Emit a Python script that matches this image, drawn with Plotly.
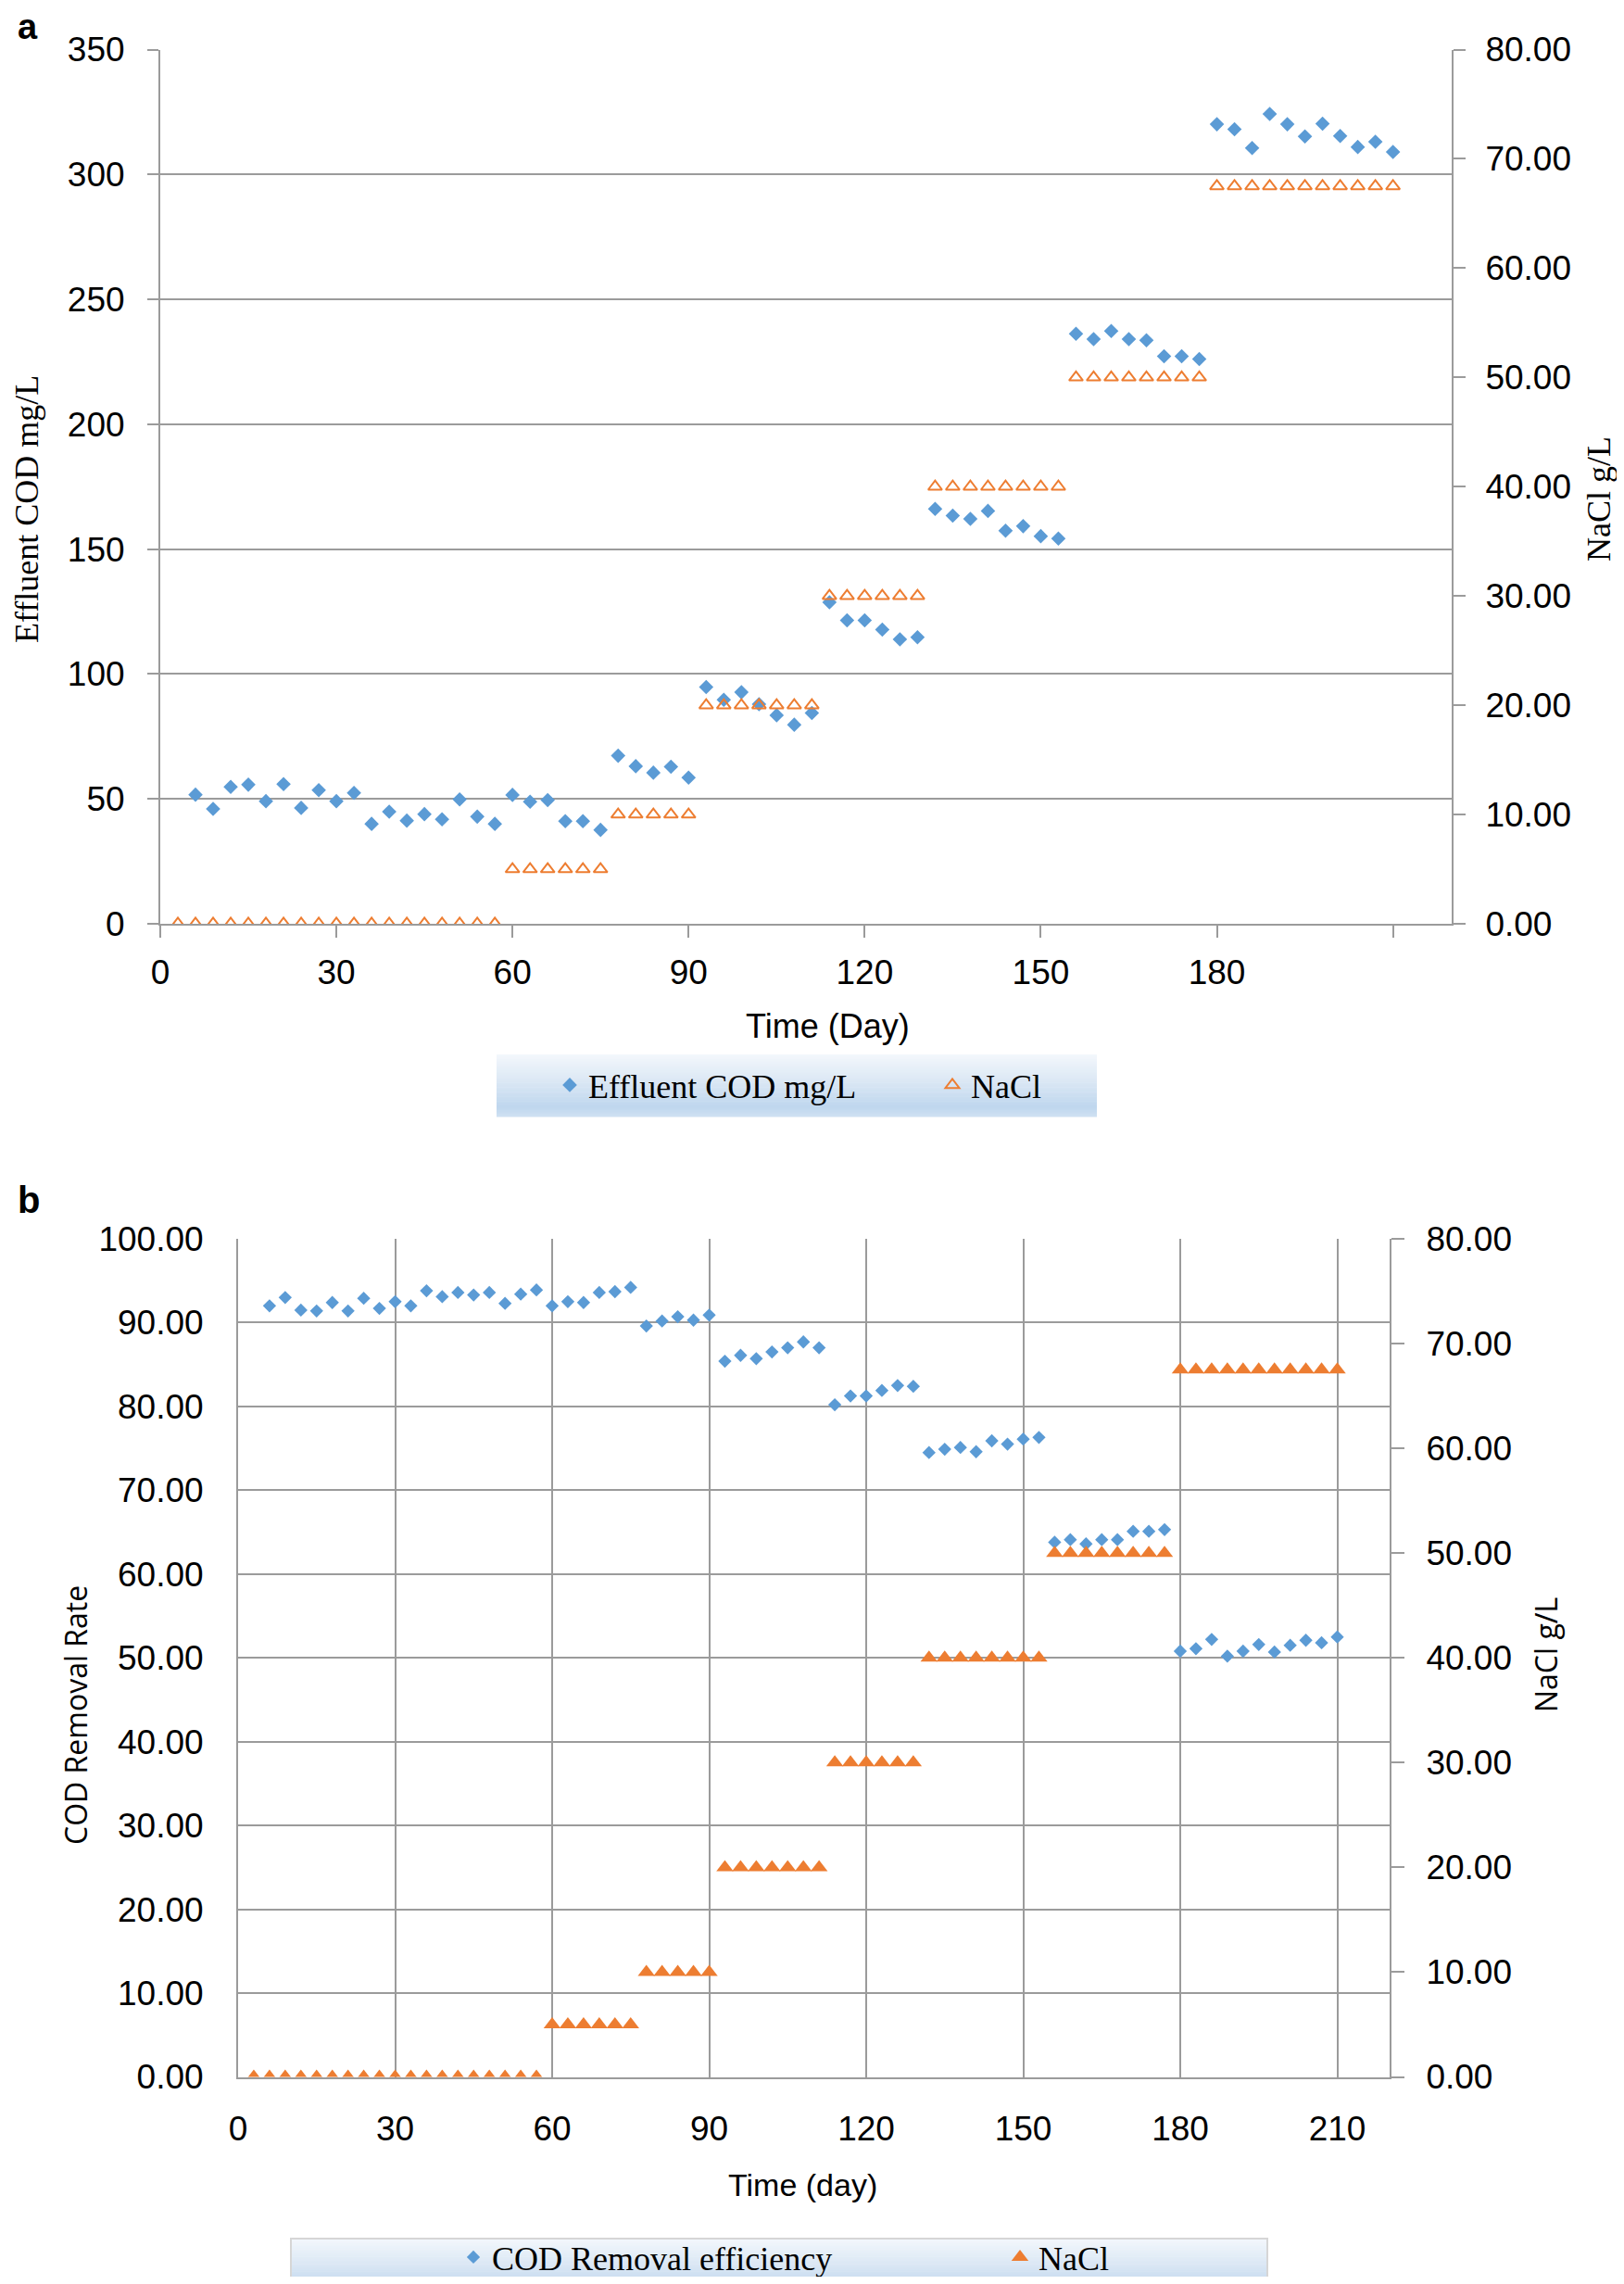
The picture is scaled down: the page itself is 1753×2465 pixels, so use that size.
import plotly.graph_objects as go

# ---------------- data ----------------
days_cod = [6, 9, 12, 15, 18, 21, 24, 27, 30, 33, 36, 39, 42, 45, 48, 51, 54, 57,
            60, 63, 66, 69, 72, 75,
            78, 81, 84, 87, 90,
            93, 96, 99, 102, 105, 108, 111,
            114, 117, 120, 123, 126, 129,
            132, 135, 138, 141, 144, 147, 150, 153,
            156, 159, 162, 165, 168, 171, 174, 177,
            180, 183, 186, 189, 192, 195, 198, 201, 204, 207, 210]

days_nacl = [3, 6, 9, 12, 15, 18, 21, 24, 27, 30, 33, 36, 39, 42, 45, 48, 51, 54, 57,
             60, 63, 66, 69, 72, 75,
             78, 81, 84, 87, 90,
             93, 96, 99, 102, 105, 108, 111,
             114, 117, 120, 123, 126, 129,
             132, 135, 138, 141, 144, 147, 150, 153,
             156, 159, 162, 165, 168, 171, 174, 177,
             180, 183, 186, 189, 192, 195, 198, 201, 204, 207, 210]

nacl = [0, 0, 0, 0, 0, 0, 0, 0, 0, 0, 0, 0, 0, 0, 0, 0, 0, 0, 0,
        5, 5, 5, 5, 5, 5,
        10, 10, 10, 10, 10,
        20, 20, 20, 20, 20, 20, 20,
        30, 30, 30, 30, 30, 30,
        40, 40, 40, 40, 40, 40, 40, 40,
        50, 50, 50, 50, 50, 50, 50, 50,
        67.5, 67.5, 67.5, 67.5, 67.5, 67.5, 67.5, 67.5, 67.5, 67.5, 67.5]

effluent_cod = [51.7, 46.0, 54.8, 55.7, 49.1, 55.9, 46.4, 53.5, 49.1, 52.4, 40.0, 44.9,
                41.3, 43.9, 41.8, 49.8, 42.9, 40.0,
                51.6, 48.9, 49.5, 41.1, 41.1, 37.6,
                67.3, 63.1, 60.5, 62.9, 58.5,
                94.8, 89.7, 92.7, 87.9, 83.5, 79.7, 84.4,
                128.7, 121.5, 121.5, 117.8, 113.9, 114.7,
                166.1, 163.4, 162.1, 165.3, 157.4, 159.2, 155.2, 154.2,
                236.2, 234.1, 237.3, 234.1, 233.6, 227.2, 227.2, 226.1,
                320.1, 318.1, 310.6, 324.2, 320.1, 315.2, 320.3, 315.4, 311.0, 313.1, 309.0]

cod_removal = [92.0, 93.0, 91.5, 91.4, 92.4, 91.4, 92.9, 91.7, 92.5, 92.0, 93.8, 93.1,
               93.6, 93.3, 93.6, 92.3, 93.4, 93.9,
               92.0, 92.5, 92.4, 93.6, 93.7, 94.2,
               89.6, 90.2, 90.7, 90.3, 90.9,
               85.4, 86.1, 85.7, 86.5, 87.0, 87.7, 87.0,
               80.2, 81.25, 81.25, 81.9, 82.5, 82.4,
               74.5, 74.9, 75.1, 74.6, 75.9, 75.5, 76.1, 76.3,
               63.8, 64.1, 63.6, 64.1, 64.1, 65.1, 65.1, 65.3,
               50.8, 51.1, 52.2, 50.2, 50.8, 51.6, 50.7, 51.5, 52.1, 51.8, 52.5]

x_ticks = [0, 30, 60, 90, 120, 150, 180, 210]
x_ticktext_a = ["0", "30", "60", "90", "120", "150", "180", ""]
x_ticktext_b = ["0", "30", "60", "90", "120", "150", "180", "210"]

# ---------------- styling ----------------
# page body has an 8px margin: the figure is sized to fit the window exactly
OFF = 8
W, H = 1753 - 2 * OFF, 2465 - 2 * OFF
BLUE = "#5B9BD5"
ORANGE = "#ED7D31"
GRID = "#9B9B9B"
SANS = "Liberation Sans, Arial, sans-serif"
SERIF = "Liberation Serif, Times New Roman, serif"
OPEN = "Open Sans, DejaVu Sans, sans-serif"
TICKFONT = dict(family=SANS, size=37, color="black")


def px(x):
    return (x - OFF) / W


def py(y):
    return 1 - (y - OFF) / H


fig = go.Figure()

# panel a
fig.add_trace(go.Scatter(x=days_cod, y=effluent_cod, mode="markers", name="Effluent COD mg/L",
                         marker=dict(symbol="diamond", size=12, color=BLUE),
                         xaxis="x", yaxis="y", legend="legend"))
fig.add_trace(go.Scatter(x=days_nacl, y=nacl, mode="markers", name="NaCl",
                         marker=dict(symbol="triangle-up-open", size=13, color=ORANGE,
                                     line=dict(width=2, color=ORANGE)),
                         xaxis="x", yaxis="y2", legend="legend"))
# panel b
fig.add_trace(go.Scatter(x=days_cod, y=cod_removal, mode="markers", name="COD Removal efficiency",
                         marker=dict(symbol="diamond", size=11, color=BLUE),
                         xaxis="x2", yaxis="y3", legend="legend2"))
fig.add_trace(go.Scatter(x=days_nacl, y=nacl, mode="markers", name="NaCl",
                         marker=dict(symbol="triangle-up", size=16, color=ORANGE),
                         xaxis="x2", yaxis="y4", legend="legend2"))


# gradient legend backgrounds
def gradient_box(x0, x1, y0, y1, n=40, border=None):
    stops = [(0.0, (243, 247, 252)), (0.45, (218, 231, 244)),
             (0.85, (190, 214, 238)), (1.0, (208, 225, 242))]
    for i in range(n):
        t = (i + 0.5) / n
        for k in range(len(stops) - 1):
            if stops[k][0] <= t <= stops[k + 1][0]:
                a, ca = stops[k]
                b, cb = stops[k + 1]
                f = (t - a) / (b - a)
                c = tuple(int(round(ca[j] + (cb[j] - ca[j]) * f)) for j in range(3))
                break
        ya = y0 + (y1 - y0) * i / n
        yb = y0 + (y1 - y0) * (i + 1) / n + 0.6
        fig.add_shape(type="rect", xref="paper", yref="paper",
                      x0=px(x0), x1=px(x1), y0=py(ya), y1=py(yb),
                      fillcolor="rgb(%d,%d,%d)" % c, line=dict(width=0), layer="above")
    if border:
        fig.add_shape(type="rect", xref="paper", yref="paper",
                      x0=px(x0), x1=px(x1), y0=py(y0), y1=py(y1),
                      fillcolor="rgba(0,0,0,0)", line=dict(width=2, color=border), layer="above")


gradient_box(536, 1184, 1138, 1205)
gradient_box(314, 1368, 2416, 2480, border="#D6D6D6")

axis_common = dict(showline=True, linecolor=GRID, linewidth=2, zeroline=False, automargin=False,
                   tickfont=TICKFONT, tickcolor=GRID, tickwidth=2, gridcolor=GRID, gridwidth=2)

fig.update_layout(
    width=W, height=H, margin=dict(l=0, r=0, t=0, b=0, pad=0, autoexpand=False),
    paper_bgcolor="white", plot_bgcolor="white",
    xaxis=dict(domain=[px(173), px(1567)], anchor="y", range=[0, 220],
               tickmode="array", tickvals=x_ticks, ticktext=x_ticktext_a,
               ticks="outside", ticklen=13, ticklabelstandoff=6, showgrid=False, **axis_common),
    yaxis=dict(domain=[py(997), py(53.5)], anchor="x", range=[0, 350], dtick=50,
               ticks="outside", ticklen=12, ticklabelstandoff=17, showgrid=True, **axis_common),
    yaxis2=dict(overlaying="y", side="right", anchor="x", range=[0, 80], dtick=10,
                tickformat=".2f", ticks="outside", ticklen=13, ticklabelstandoff=14,
                showgrid=False, **axis_common),
    xaxis2=dict(domain=[px(257), px(1500)], anchor="y3", range=[0, 220],
                tickmode="array", tickvals=x_ticks, ticktext=x_ticktext_b,
                ticks="", ticklabelstandoff=22, showgrid=True, **axis_common),
    yaxis3=dict(domain=[py(2241.5), py(1337)], anchor="x2", range=[0, 100], dtick=10,
                tickformat=".2f", ticks="", ticklabelstandoff=28, showgrid=True, **axis_common),
    yaxis4=dict(overlaying="y3", side="right", anchor="x2", range=[0, 80], dtick=10,
                tickformat=".2f", ticks="outside", ticklen=14, ticklabelstandoff=16,
                showgrid=False, **axis_common),
    legend=dict(orientation="h", x=px(595), xanchor="left", y=py(1171), yanchor="middle",
                bgcolor="rgba(0,0,0,0)", font=dict(family=SERIF, size=36, color="black"),
                entrywidth=368, entrywidthmode="pixels"),
    legend2=dict(orientation="h", x=px(491), xanchor="left", y=py(2436), yanchor="middle",
                 bgcolor="rgba(0,0,0,0)", font=dict(family=SERIF, size=36, color="black"),
                 entrywidth=545, entrywidthmode="pixels"),
    showlegend=True,
)

annos = [
    dict(text="<b>a</b>", x=px(30), y=py(29), font=dict(family=SANS, size=38, color="black")),
    dict(text="<b>b</b>", x=px(31), y=py(1295), font=dict(family=SANS, size=40, color="black")),
    dict(text="Effluent COD mg/L", x=px(29), y=py(550), textangle=-90,
         font=dict(family=SERIF, size=36, color="black")),
    dict(text="NaCl g/L", x=px(1726), y=py(539), textangle=-90,
         font=dict(family=SERIF, size=36, color="black")),
    dict(text="Time (Day)", x=px(893), y=py(1108), font=dict(family=SANS, size=36, color="black")),
    dict(text="COD Removal Rate", x=px(81), y=py(1851), textangle=-90,
         font=dict(family=OPEN, size=32, color="black")),
    dict(text="NaCl g/L", x=px(1668), y=py(1786), textangle=-90,
         font=dict(family=OPEN, size=32, color="black")),
    dict(text="Time (day)", x=px(866), y=py(2358), font=dict(family=SANS, size=34, color="black")),
]
for a in annos:
    fig.add_annotation(xref="paper", yref="paper", showarrow=False,
                       xanchor="center", yanchor="middle", **a)

fig.write_html("out.html")
